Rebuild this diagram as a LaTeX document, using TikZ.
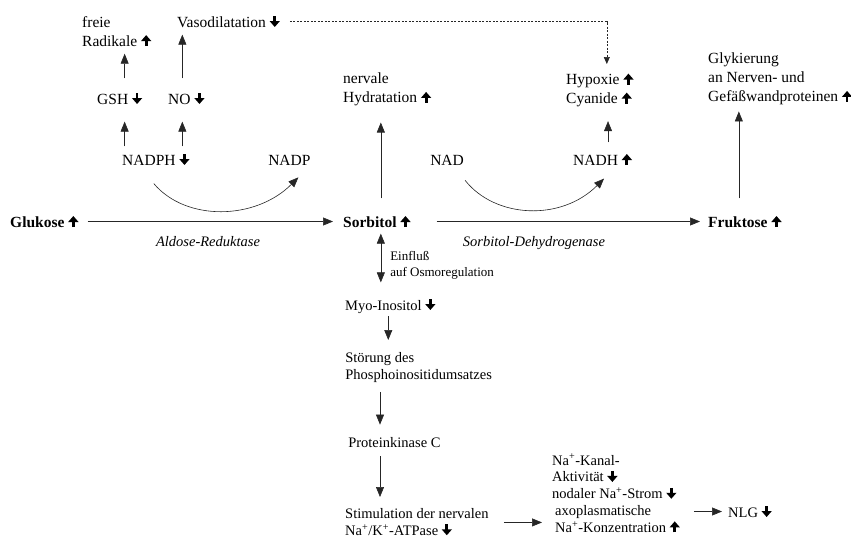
\documentclass[tikz,border=0pt]{standalone}
\usepackage{fontspec}
\setmainfont{Liberation Serif}
\usetikzlibrary{arrows.meta, positioning, calc}
\newcommand{\auf}{\tikz[baseline=0pt]\draw[line width=2.8pt,-{Triangle[width=10pt,length=6pt]}] (0pt,0pt) -- (0pt,11pt);}
\newcommand{\ab}{\tikz[baseline=0pt]\draw[line width=2.8pt,-{Triangle[width=10pt,length=6pt]}] (0pt,11pt) -- (0pt,0pt);}
\tikzset{
  schema/.style={
	x=1pt, y=-1pt, % one unit is one pixel, y grows downwards
	>={Triangle[length=10pt,width=8pt]}, % filled arrow heads
	line width=0.6pt,
  },
  stoff/.style={inner sep=0pt, align=left, font=\fontsize{15.5}{19}\selectfont}, % upper labels
  haupt/.style={inner sep=0pt, font=\fontsize{15.5}{19}\selectfont\bfseries}, % sugars
  enzym/.style={inner sep=0pt, font=\fontsize{14.5}{17}\selectfont\itshape}, % enzymes under the arrows
  folge/.style={inner sep=0pt, align=left, font=\fontsize{14.5}{17}\selectfont}, % lower chain
  notiz/.style={inner sep=0pt, align=left, font=\fontsize{13}{16}\selectfont},
  natrium/.style={inner sep=0pt, align=left, font=\fontsize{14.5}{16.8}\selectfont},
  pfeil/.style={->, draw=black!85},
  strich/.style={->, draw=black!85, line width=0.5pt, dash pattern=on 2pt off 1.5pt, >={Triangle[length=7pt,width=6pt]}},
}
\begin{document}
\begin{tikzpicture}[schema]
	  \useasboundingbox (0,0) rectangle (851,539);
	  \node[stoff, anchor=north west] (radikale) at (82,16) {freie\\Radikale \auf};
	  \node[stoff, anchor=base west] (vaso) at (177,27) {Vasodilatation \ab};
	  \node[stoff, anchor=base west] (gsh) at (97,104) {GSH \ab};
	  \node[stoff, anchor=base west] (no) at (168,104) {NO \ab};
	  \node[stoff, anchor=base west] (nadph) at (122,165) {NADPH \ab};
	  \node[stoff, anchor=base west] (nadp) at (268,165) {NADP};
	  \node[haupt, anchor=base west] (glukose) at (10,227) {Glukose \auf};
	  \node[haupt, anchor=base west] (sorbitol) at (343,227) {Sorbitol \auf};
	  \node[haupt, anchor=base west] (fruktose) at (708,227) {Fruktose \auf};
	  \node[enzym, anchor=base] (ar) at (208,246) {Aldose-Reduktase};
	  \node[enzym, anchor=base] (sdh) at (534,246) {Sorbitol-Dehydrogenase};
	  \node[stoff, anchor=north west] (hydratation) at (343,73) {nervale\\Hydratation \auf};
	  \node[stoff, anchor=base west] (nad) at (430,165) {NAD};
	  \node[stoff, anchor=base west] (nadh) at (573,165) {NADH \auf};
	  \node[stoff, anchor=north west] (hypoxie) at (566,72) {Hypoxie \auf\\Cyanide \auf};
	  \node[stoff, anchor=north west] (glykierung) at (708,53) {Glykierung\\an Nerven- und\\Gefäßwandproteinen \auf};
	  \node[notiz, anchor=north west] (einfluss) at (390,251) {Einfluß\\auf Osmoregulation};
	  \node[folge, anchor=base west] (myo) at (345,310) {Myo-Inositol \ab};
	  \node[folge, anchor=north west] (stoerung) at (345,352) {Störung des\\Phosphoinositidumsatzes};
	  \node[folge, anchor=base west] (pkc) at (348,447) {Proteinkinase C};
	  \node[folge, anchor=north west] (stimulation) at (345,508) {Stimulation der nervalen\\Na\textsuperscript{+}/K\textsuperscript{+}-ATPase \ab};
	  \node[natrium, anchor=north west] (natrium) at (552,454) {Na\textsuperscript{+}-Kanal-\\Aktivität \ab\\nodaler Na\textsuperscript{+}-Strom \ab\\\hspace{3pt}axoplasmatische\\\hspace{3pt}Na\textsuperscript{+}-Konzentration \auf};
	  \node[folge, anchor=base west] (nlg) at (728,517) {NLG \ab};
	  \draw[pfeil, shorten <=6pt, shorten >=16pt] ([xshift=5pt]gsh.south |- nadph.north) -- ([xshift=5pt]gsh.south);
	  \draw[pfeil, shorten <=6pt, shorten >=16pt] ([xshift=-4pt]no.south |- nadph.north) -- ([xshift=-4pt]no.south);
	  \draw[pfeil, shorten <=13pt, shorten >=6pt] ([xshift=5pt]gsh.north) -- ([xshift=5pt]gsh.north |- radikale.south);
	  \draw[pfeil, shorten <=13pt, shorten >=6pt] ([xshift=-4pt]no.north) -- ([xshift=-4pt]no.north |- vaso.south);
	  \draw[strich, shorten <=10pt, shorten >=8pt] (vaso.east) -| ([xshift=7pt]hypoxie.north);
	  \draw[pfeil] ([shift={(-2pt,-17pt)}]nadph.south) .. controls +(32pt,-38pt) and +(-43pt,-43pt) .. ([shift={(9pt,-12pt)}]nadp.south);
	  \draw[pfeil] ([shift={(18pt,-15pt)}]nad.south) .. controls +(30pt,-38pt) and +(-43pt,-43pt) .. ([shift={(1.5pt,-12pt)}]nadh.south);
	  \draw[pfeil, shorten <=9pt, shorten >=10pt] (glukose.east) -- (sorbitol.west);
	  \draw[pfeil, shorten <=26pt, shorten >=8pt] (sorbitol.east) -- (fruktose.west);
	  \draw[pfeil, shorten <=16pt, shorten >=16pt] ([xshift=4pt]sorbitol.north) -- ([xshift=4pt]sorbitol.north |- hydratation.south);
	  \draw[pfeil, shorten <=10pt, shorten >=14pt] ([xshift=5.5pt]nadh.north) -- ([xshift=5.5pt]nadh.north |- hypoxie.south);
	  \draw[pfeil, shorten <=16pt, shorten >=6pt] ([xshift=-6pt]fruktose.north) -- ([xshift=-6pt]fruktose.north |- glykierung.south);
	  \draw[pfeil, <->, shorten <=5pt, shorten >=15pt] ([xshift=4pt]sorbitol.south) -- ([xshift=4pt]sorbitol.south |- myo.north);
	  \draw[pfeil, shorten <=3pt, shorten >=12pt] ([xshift=-2pt]myo.south) -- ([xshift=-2pt]myo.south |- stoerung.north);
	  \draw[pfeil, shorten <=9pt, shorten >=12pt] ([xshift=35pt]stoerung.south west) -- ([xshift=35pt]stoerung.south west |- pkc.north);
	  \draw[pfeil, shorten <=9pt, shorten >=11pt] ([xshift=32pt]pkc.south west) -- ([xshift=32pt]pkc.south west |- stimulation.north);
	  \draw[pfeil, shorten <=15pt, shorten >=10pt] (stimulation.east) -- (stimulation.east -| natrium.west);
	  \draw[pfeil, shorten <=14pt, shorten >=6pt] (natrium.east |- nlg.west) -- (nlg.west);
	  \end{tikzpicture}
\end{document}
